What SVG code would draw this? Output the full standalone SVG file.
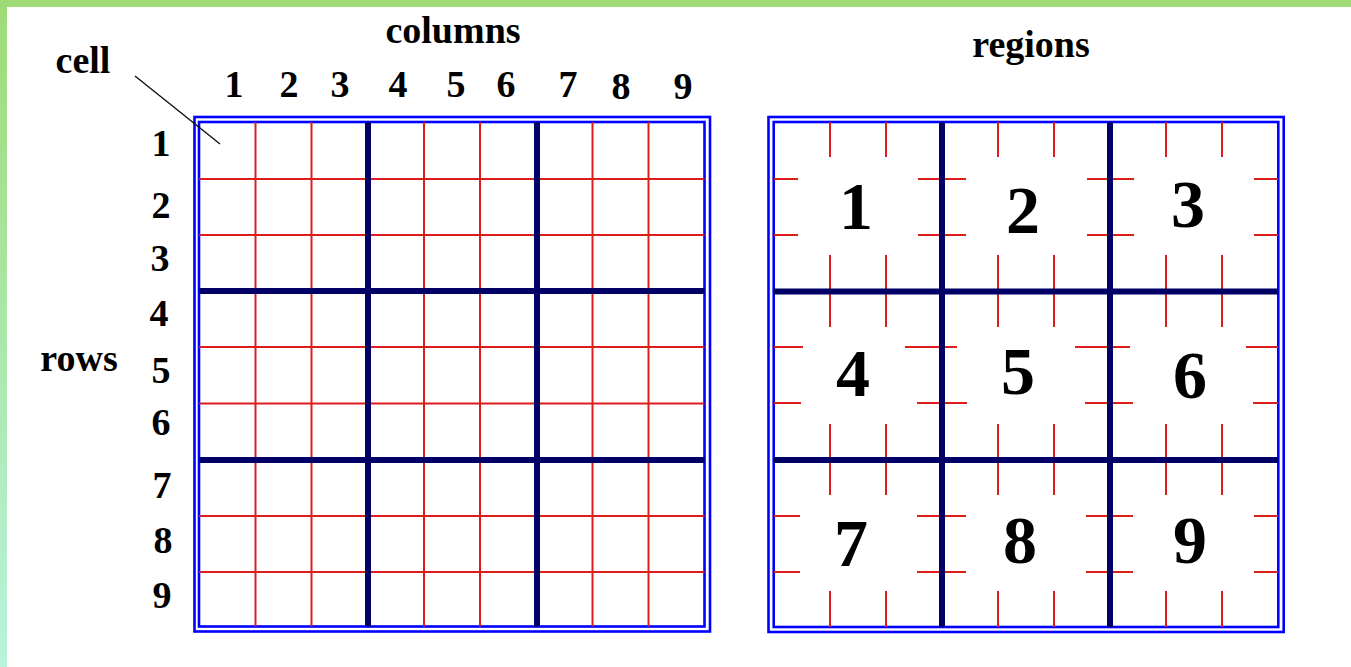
<svg xmlns="http://www.w3.org/2000/svg" width="1351" height="667" viewBox="0 0 1351 667">
<defs>
<linearGradient id="sideG" x1="0" y1="0" x2="0" y2="1">
<stop offset="0" stop-color="#9edb76"/>
<stop offset="1" stop-color="#b8f3dc"/>
</linearGradient>
<style>
text{font-family:"Liberation Serif","Times New Roman",serif;font-weight:bold;fill:#000;text-anchor:middle}
.lbl{font-size:38px}
.big{font-size:68px}
.blue{fill:none;stroke:#0000ff;stroke-width:2.6}
.red{stroke:#dd1c1c;stroke-width:2;fill:none}
.thick{stroke:#000066;stroke-width:6;fill:none}
.lead{stroke:#111;stroke-width:1.5;fill:none}
</style>
</defs>
<rect x="0" y="0" width="1351" height="667" fill="#fff"/>
<rect x="0" y="0" width="7" height="667" fill="url(#sideG)"/>
<rect x="0" y="0" width="1351" height="7" fill="#9edb76"/>

<g id="labels">
<text class="lbl" x="453" y="43">columns</text>
<text class="lbl" x="1031" y="57">regions</text>
<text class="lbl" x="83" y="73" font-size="40">cell</text>
<text class="lbl" x="79" y="371">rows</text>
</g>

<g id="col-labels">
<text class="lbl" x="234" y="97">1</text>
<text class="lbl" x="289" y="97">2</text>
<text class="lbl" x="340" y="97">3</text>
<text class="lbl" x="398" y="97">4</text>
<text class="lbl" x="456" y="97">5</text>
<text class="lbl" x="506" y="97">6</text>
<text class="lbl" x="568" y="97">7</text>
<text class="lbl" x="621" y="99">8</text>
<text class="lbl" x="683" y="99">9</text>
</g>

<g id="row-labels">
<text class="lbl" x="161" y="156">1</text>
<text class="lbl" x="161" y="218">2</text>
<text class="lbl" x="160" y="271">3</text>
<text class="lbl" x="159" y="326">4</text>
<text class="lbl" x="161" y="383">5</text>
<text class="lbl" x="161" y="435">6</text>
<text class="lbl" x="162" y="498">7</text>
<text class="lbl" x="163" y="553">8</text>
<text class="lbl" x="162" y="608">9</text>
</g>

<g id="grid-cells">
<rect class="blue" x="194.5" y="117" width="515.5" height="514.5"/>
<rect class="blue" x="199" y="122" width="505.5" height="504.5"/>
<g class="red">
<line x1="255.5" y1="122" x2="255.5" y2="626.5"/>
<line x1="311.5" y1="122" x2="311.5" y2="626.5"/>
<line x1="424" y1="122" x2="424" y2="626.5"/>
<line x1="480" y1="122" x2="480" y2="626.5"/>
<line x1="592.5" y1="122" x2="592.5" y2="626.5"/>
<line x1="648.5" y1="122" x2="648.5" y2="626.5"/>
<line x1="199" y1="179" x2="704.5" y2="179"/>
<line x1="199" y1="235" x2="704.5" y2="235"/>
<line x1="199" y1="347" x2="704.5" y2="347"/>
<line x1="199" y1="403.5" x2="704.5" y2="403.5"/>
<line x1="199" y1="516" x2="704.5" y2="516"/>
<line x1="199" y1="572" x2="704.5" y2="572"/>
</g>
<g class="thick">
<line x1="368" y1="122" x2="368" y2="626.5"/>
<line x1="537" y1="122" x2="537" y2="626.5"/>
<line x1="199" y1="291" x2="704.5" y2="291"/>
<line x1="199" y1="460" x2="704.5" y2="460"/>
</g>
</g>

<g id="grid-regions">
<rect class="blue" x="768.5" y="117" width="515.2" height="515"/>
<rect class="blue" x="773.7" y="122" width="504.6" height="505"/>
<g class="red">
<path d="M830 122V157M830 255V327M830 424V495M830 591V627
M886 122V157M886 255V327M886 424V495M886 591V627
M998 122V157M998 255V327M998 424V495M998 591V627
M1054 122V157M1054 255V327M1054 424V495M1054 591V627
M1166 122V157M1166 255V327M1166 424V495M1166 591V627
M1222 122V157M1222 255V327M1222 424V495M1222 591V627"/>
<path d="M774 179H798M918 179H966M1087 179H1134M1254 179H1278
M774 235H798M918 235H966M1087 235H1134M1254 235H1278
M774 347H803M905 347H957M1075 347H1130M1246 347H1278
M774 403H801M917 403H967M1085 403H1133M1253 403H1278
M774 516H800M917 516H966M1086 516H1133M1254 516H1278
M774 572H800M917 572H966M1086 572H1133M1254 572H1278"/>
</g>
<g class="thick">
<line x1="942" y1="122" x2="942" y2="627"/>
<line x1="1110" y1="122" x2="1110" y2="627"/>
<line x1="773.7" y1="291.5" x2="1278.3" y2="291.5"/>
<line x1="773.7" y1="460" x2="1278.3" y2="460"/>
</g>
</g>

<g id="region-numbers">
<text class="big" x="856" y="229">1</text>
<text class="big" x="1023" y="233">2</text>
<text class="big" x="1188" y="227">3</text>
<text class="big" x="853" y="396">4</text>
<text class="big" x="1018" y="394">5</text>
<text class="big" x="1190" y="398">6</text>
<text class="big" x="851" y="566">7</text>
<text class="big" x="1020" y="563">8</text>
<text class="big" x="1190" y="563">9</text>
</g>

<g id="connectors">
<line class="lead" x1="135" y1="76" x2="220" y2="144"/>
</g>
</svg>
